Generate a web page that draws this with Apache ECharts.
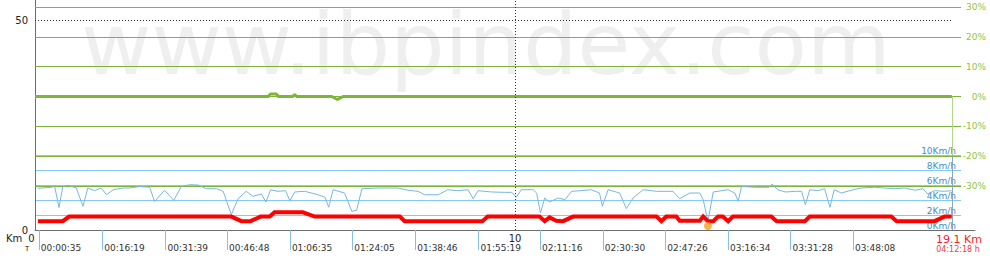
<!DOCTYPE html>
<html><head><meta charset="utf-8">
<script src="https://cdn.jsdelivr.net/npm/echarts@6/dist/echarts.min.js"></script>
<style>html,body{margin:0;padding:0;background:#fff}#c{width:990px;height:270px}</style>
</head><body><div id="c"></div>
<script>
// ---------- data ----------
const totalKm = 19.1;
const totalTime = '04:12:18';
const watermark = 'www.ibpindex.com';
const kmLabelValues = [0, 10];
const elevLabelValues = [0, 50];
const timeTickKm = [0.08, 1.40, 2.72, 4.00, 5.31, 6.61, 7.92, 9.24, 10.52, 11.83, 13.13, 14.44, 15.74, 17.04];
const timeTickLabels = ['00:00:35','00:16:19','00:31:39','00:46:48','01:06:35','01:24:05','01:38:46','01:55:19','02:11:16','02:30:30','02:47:26','03:16:34','03:31:28','03:48:08'];

const speedKm = [0.06,0.34,0.41,0.50,0.58,0.69,0.86,1.00,1.10,1.24,1.38,1.49,1.63,1.83,1.97,2.18,2.39,2.49,2.70,2.89,3.05,3.22,3.40,3.57,3.78,3.92,4.09,4.23,4.40,4.54,4.72,4.81,4.91,5.06,5.22,5.31,5.41,5.62,5.90,6.04,6.12,6.21,6.45,6.60,6.70,6.81,7.15,7.56,7.77,7.98,8.12,8.40,8.60,8.81,9.02,9.13,9.23,9.51,9.79,9.93,10.03,10.13,10.38,10.45,10.53,10.62,10.72,10.90,11.04,11.18,11.35,11.59,11.76,11.82,11.94,12.18,12.32,12.46,12.67,12.95,13.29,13.43,13.64,13.85,13.92,14.02,14.13,14.44,14.58,14.65,14.72,15.01,15.29,15.36,15.47,15.64,15.86,15.97,16.05,16.14,16.31,16.45,16.56,16.65,16.80,16.97,17.21,17.49,17.70,17.91,18.12,18.33,18.50,18.60,18.74,18.95,19.10];
const speedKmh = [5.56,5.7,5.8,3.0,5.8,5.96,5.6,3.16,5.6,5.24,5.6,4.7,5.37,5.6,5.6,5.8,5.7,3.8,5.3,3.96,5.8,6.04,6.0,5.5,5.5,5.16,2.04,4.17,5.16,4.5,4.8,3.73,5.37,5.16,5.24,3.9,5.07,5.16,4.7,4.36,3.03,5.37,4.93,2.49,2.62,5.5,5.6,5.6,5.3,5.16,4.7,4.7,5.37,5.24,5.37,4.17,5.24,5.07,5.02,5.02,4.4,5.37,5.37,4.93,2.27,4.27,3.73,4.27,4.04,5.16,5.24,5.37,4.93,3.16,5.37,4.93,2.84,4.27,5.37,5.16,5.16,4.17,4.93,4.93,4.04,1.16,5.07,5.37,4.93,3.83,5.8,5.7,5.7,6.13,5.37,5.07,5.16,5.16,3.37,5.37,5.24,5.5,3.03,5.37,4.93,5.24,5.6,5.7,5.6,5.5,5.6,5.3,5.5,4.8,5.24,5.16,5.24];

const elevKm = [0.06,0.58,0.71,4.09,4.30,4.49,4.70,4.89,4.99,5.58,5.83,7.60,7.70,9.32,9.43,10.51,10.62,10.72,10.86,11.00,11.21,12.95,13.05,13.15,13.36,13.43,13.85,13.92,14.02,14.13,14.23,14.33,14.44,14.54,15.34,15.45,16.04,16.14,17.84,17.95,18.74,18.95,19.10];
const elevM  = [2.1,2.1,3.2,3.2,2.1,2.1,3.2,3.2,4.2,4.2,3.2,3.2,2.1,2.1,3.2,3.2,2.1,3.0,2.2,2.1,3.2,3.2,2.1,3.2,3.2,2.2,2.2,3.2,2.1,2.1,3.2,3.2,2.1,3.2,3.2,2.1,2.1,3.2,3.2,2.1,2.1,3.2,3.2];

const slopeKm  = [0, 4.86, 4.90, 5.03, 5.07, 5.37, 5.41, 5.45, 6.18, 6.30, 6.42, 19.10];
const slopePct = [0, 0, 0.8, 0.8, 0, 0, 0.7, 0, 0, -1.0, 0, 0];

// ---------- layout / style ----------
const FONT = 'DejaVu Sans';
const KM_PX = 48;
const X0 = 35;
const pair = (a, b) => a.map((v, i) => [v, b[i]]);
const minIdx = speedKmh.indexOf(Math.min(...speedKmh));

const chart = echarts.init(document.getElementById('c'), null, {renderer: 'svg'});
const g0w = 975 - X0, g1w = 961 - X0;

chart.setOption({
  animation: false,
  backgroundColor: '#fff',
  textStyle: {fontFamily: FONT},
  grid: [
    {left: X0, top: 0, width: g0w, height: 230, outerBoundsMode: 'none'},
    {left: X0, top: 7, width: g1w, height: 179, outerBoundsMode: 'none'},
    {left: X0, top: 155, width: g1w, height: 75, outerBoundsMode: 'none'}
  ],
  xAxis: [
    {gridIndex: 0, type: 'value', min: 0, max: g0w / KM_PX, position: 'bottom',
     axisLine: {show: true, onZero: false, lineStyle: {color: '#6e6e6e', width: 1}},
     splitLine: {show: false},
     axisTick: {show: true, customValues: timeTickKm, length: 20, lineStyle: {color: '#86bfe6', width: 1}},
     axisLabel: {show: true, customValues: timeTickKm, align: 'left', verticalAlign: 'middle', margin: 18,
       fontSize: 9, color: '#333', fontFamily: FONT, padding: [0, 0, 0, 2],
       formatter: v => { let b = 0, d = 1e9; timeTickKm.forEach((t, i) => { if (Math.abs(t - v) < d) { d = Math.abs(t - v); b = i; } }); return timeTickLabels[b]; }}},
    {gridIndex: 0, type: 'value', min: 0, max: g0w / KM_PX, position: 'bottom',
     axisLine: {show: false}, axisTick: {show: false}, splitLine: {show: false},
     axisLabel: {show: true, customValues: kmLabelValues, verticalAlign: 'middle', margin: 8,
       fontSize: 10, color: '#222', fontFamily: FONT, lineHeight: 10,
       formatter: v => v === 0 ? '{z|' + v + '}' : String(v),
       rich: {z: {fontSize: 10, color: '#222', fontFamily: FONT, lineHeight: 10, padding: [0, 7, 0, 0]}}}},
    {gridIndex: 1, type: 'value', min: 0, max: g1w / KM_PX, show: false},
    {gridIndex: 2, type: 'value', min: 0, max: g1w / KM_PX, show: false}
  ],
  yAxis: [
    {gridIndex: 0, type: 'value', min: 0, max: 230 / 4.2, position: 'left',
     axisLine: {show: true, lineStyle: {color: '#6e6e6e', width: 1}}, axisTick: {show: false}, splitLine: {show: false},
     axisLabel: {show: true, customValues: elevLabelValues, margin: 7, fontSize: 10, color: '#222', fontFamily: FONT}},
    {gridIndex: 1, type: 'value', min: -30, max: 30, interval: 10, position: 'right', z: 1,
     axisLine: {show: false}, axisTick: {show: false},
     splitLine: {show: true, lineStyle: {color: '#7db43a', width: 1}},
     axisLabel: {show: true, margin: 25, align: 'right', formatter: '{value}%', fontSize: 9, color: '#8dc63f', fontFamily: FONT}},
    {gridIndex: 2, type: 'value', min: 0, max: 10, interval: 2, position: 'right', z: 0,
     axisLine: {show: false}, axisTick: {show: false},
     splitLine: {show: true, showMinLine: false, lineStyle: {color: '#86c9f2', width: 1}},
     axisLabel: {show: true, inside: true, margin: 5, align: 'right', verticalAlign: 'bottom',
       formatter: '{value}Km/h', fontSize: 9, color: '#3d8fcb', fontFamily: FONT}}
  ],
  graphic: [
    {type: 'text', z: -10, silent: true, style: {text: watermark, x: 486, y: 44, align: 'center', verticalAlign: 'middle',
      fontSize: 86, fontFamily: FONT, fill: '#efefef'}},
    {type: 'text', silent: true, style: {text: 'Km', x: 6, y: 238.5, verticalAlign: 'middle', fontSize: 10, fontFamily: FONT, fill: '#222'}},
    {type: 'text', silent: true, style: {text: 'T', x: 25, y: 249, verticalAlign: 'middle', fontSize: 7, fontFamily: FONT, fill: '#222'}},
    {type: 'text', silent: true, style: {text: totalKm + ' Km', x: 959, y: 239.5, align: 'center', verticalAlign: 'middle', fontSize: 11, fontFamily: FONT, fill: '#ff1a1a'}},
    {type: 'text', silent: true, style: {text: totalTime + ' h', x: 958, y: 249, align: 'center', verticalAlign: 'middle', fontSize: 8, fontFamily: FONT, fill: '#f04040'}}
  ],
  series: [
    {type: 'line', name: 'slope', xAxisIndex: 2, yAxisIndex: 1, data: pair(slopeKm, slopePct),
     symbol: 'none', z: 3, lineStyle: {color: '#7db43a', width: 3},
     markLine: {silent: true, symbol: 'none', label: {show: false},
       lineStyle: {color: '#b3d88a', width: 1, type: 'solid'},
       data: [[{coord: [totalKm, 0]}, {coord: [totalKm, -30]}]]}},
    {type: 'line', name: 'speed', xAxisIndex: 3, yAxisIndex: 2, data: pair(speedKm, speedKmh),
     symbol: 'none', z: 4, lineStyle: {color: '#7ab6e0', width: 1},
     markLine: {silent: true, symbol: 'none', label: {show: false},
       lineStyle: {color: '#86a9c4', width: 1, type: 'solid'},
       data: [[{coord: [totalKm, 0]}, {coord: [totalKm, 10]}]]}},
    {type: 'line', name: 'elev', xAxisIndex: 0, yAxisIndex: 0, data: pair(elevKm, elevM),
     symbol: 'none', z: 5, lineStyle: {color: '#ff0000', width: 4, join: 'miter'},
     markLine: {silent: true, symbol: 'none', label: {show: false},
       lineStyle: {color: '#333', width: 1, type: [1, 2]},
       data: [
         [{coord: [0, 50]}, {coord: [totalKm, 50]}],
         {xAxis: 10}
       ]}},
    {type: 'scatter', name: 'minSpeed', xAxisIndex: 3, yAxisIndex: 2, data: [[speedKm[minIdx], 0]],
     symbol: 'circle', symbolSize: 8, symbolOffset: [0, -4], z: 6, itemStyle: {color: '#f5a31a'}}
  ]
});
</script></body></html>
